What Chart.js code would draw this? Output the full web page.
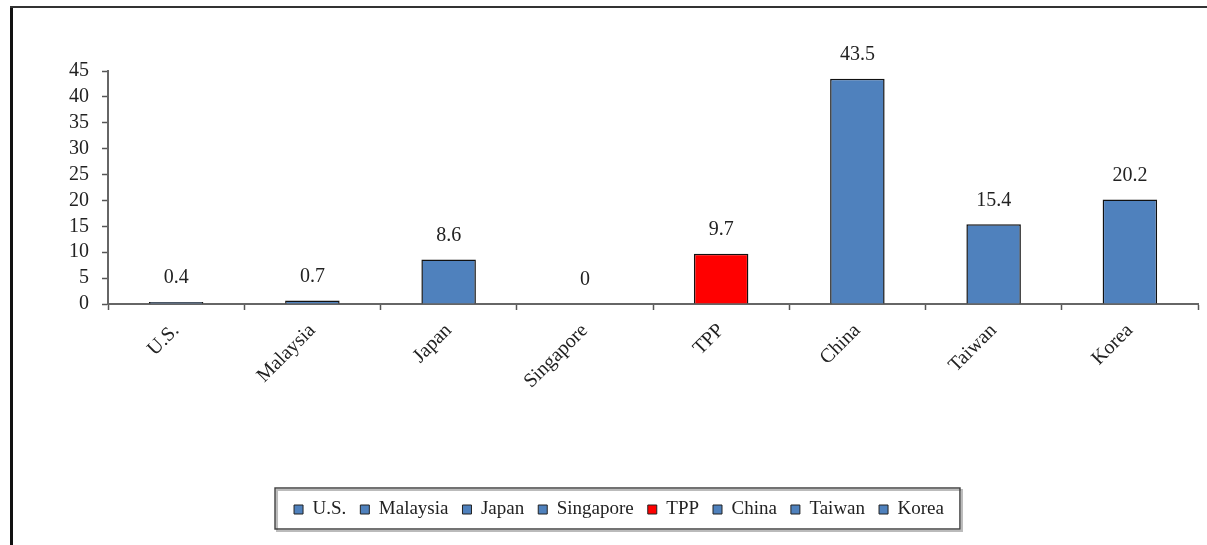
<!DOCTYPE html>
<html lang="en">
<head>
    <meta charset="UTF-8">
    <title>TPP chart</title>
    <script src="https://cdn.jsdelivr.net/npm/chart.js"></script>
    <style>
        body { margin: 0; background: #fff; }
        canvas { display: block; }
    </style>
</head>
<body>
    <canvas id="tppChart" width="1207" height="545"></canvas>

    <script>
        // values
        const categories = ['U.S.', 'Malaysia', 'Japan', 'Singapore', 'TPP', 'China', 'Taiwan', 'Korea'];
        const values = [0.4, 0.7, 8.6, 0, 9.7, 43.5, 15.4, 20.2];
        const yTicks = [0, 5, 10, 15, 20, 25, 30, 35, 40, 45];

        const blue = '#4F81BD';
        const red = '#FF0000';
        const barColors = categories.map(c => c === 'TPP' ? red : blue);
        const font = 'Liberation Serif';

        // outer frame (left + top lines only) and box around the legend
        const framePlugin = {
            id: 'frame',
            afterDraw(chart) {
                const ctx = chart.ctx;
                ctx.save();
                ctx.fillStyle = '#111';
                ctx.fillRect(10, 6, 3, 545);
                ctx.fillStyle = '#333';
                ctx.fillRect(10, 6, 1207, 2);

                const boxes = chart.legend.legendHitBoxes;
                if (boxes && boxes.length) {
                    const first = boxes[0];
                    const last = boxes[boxes.length - 1];
                    const x0 = first.left - 19;
                    const x1 = last.left + last.width + 16;
                    const y0 = 488, y1 = 529;
                    ctx.strokeStyle = '#bbb';
                    ctx.lineWidth = 2;
                    ctx.strokeRect(x0 + 2, y0 + 2, x1 - x0, y1 - y0);
                    ctx.strokeStyle = '#444';
                    ctx.lineWidth = 1.5;
                    ctx.strokeRect(x0, y0, x1 - x0, y1 - y0);
                }
                ctx.restore();
            }
        };

        // value labels above the bars
        const valueLabels = {
            id: 'valueLabels',
            afterDatasetsDraw(chart) {
                const ctx = chart.ctx;
                const meta = chart.getDatasetMeta(0);
                ctx.save();
                ctx.font = '20px "' + font + '"';
                ctx.fillStyle = '#222';
                ctx.textAlign = 'center';
                ctx.textBaseline = 'middle';
                meta.data.forEach((bar, i) => {
                    ctx.fillText(String(values[i]), bar.x, bar.y - 24);
                });
                ctx.restore();
            }
        };

        new Chart(document.getElementById('tppChart'), {
            type: 'bar',
            data: {
                labels: categories,
                datasets: [{
                    data: values,
                    backgroundColor: barColors,
                    borderColor: '#111',
                    borderWidth: 1.5,
                    barPercentage: 0.4,
                    categoryPercentage: 1.0
                }]
            },
            options: {
                responsive: false,
                animation: false,
                layout: {
                    padding: { left: 40, right: 9, top: 71, bottom: 16 }
                },
                plugins: {
                    tooltip: { enabled: false },
                    legend: {
                        position: 'bottom',
                        labels: {
                            font: { family: font, size: 19 },
                            color: '#222',
                            boxWidth: 9,
                            boxHeight: 9,
                            padding: 14,
                            generateLabels: () => categories.map((c, i) => ({
                                text: c,
                                fillStyle: barColors[i],
                                strokeStyle: '#222',
                                lineWidth: 1,
                                fontColor: '#222',
                                index: i
                            }))
                        }
                    }
                },
                scales: {
                    x: {
                        offset: true,
                        afterFit: scale => { scale.height = 182; },
                        grid: {
                            offset: true,
                            drawOnChartArea: false,
                            tickLength: 6,
                            tickColor: '#555',
                            tickWidth: 1.5
                        },
                        border: { color: '#666', width: 2 },
                        ticks: {
                            font: { family: font, size: 20 },
                            color: '#222',
                            minRotation: 45,
                            maxRotation: 45,
                            autoSkip: false,
                            padding: 9
                        }
                    },
                    y: {
                        min: 0,
                        max: 45,
                        afterFit: scale => { scale.width = 68; },
                        afterBuildTicks: scale => {
                            scale.ticks = yTicks.map(v => ({ value: v }));
                        },
                        grid: {
                            drawOnChartArea: false,
                            tickLength: 6,
                            tickColor: '#555',
                            tickWidth: 1.5
                        },
                        border: { color: '#666', width: 2 },
                        ticks: {
                            font: { family: font, size: 20 },
                            color: '#222',
                            autoSkip: false,
                            padding: 13
                        }
                    }
                }
            },
            plugins: [framePlugin, valueLabels]
        });
    </script>
</body>
</html>
